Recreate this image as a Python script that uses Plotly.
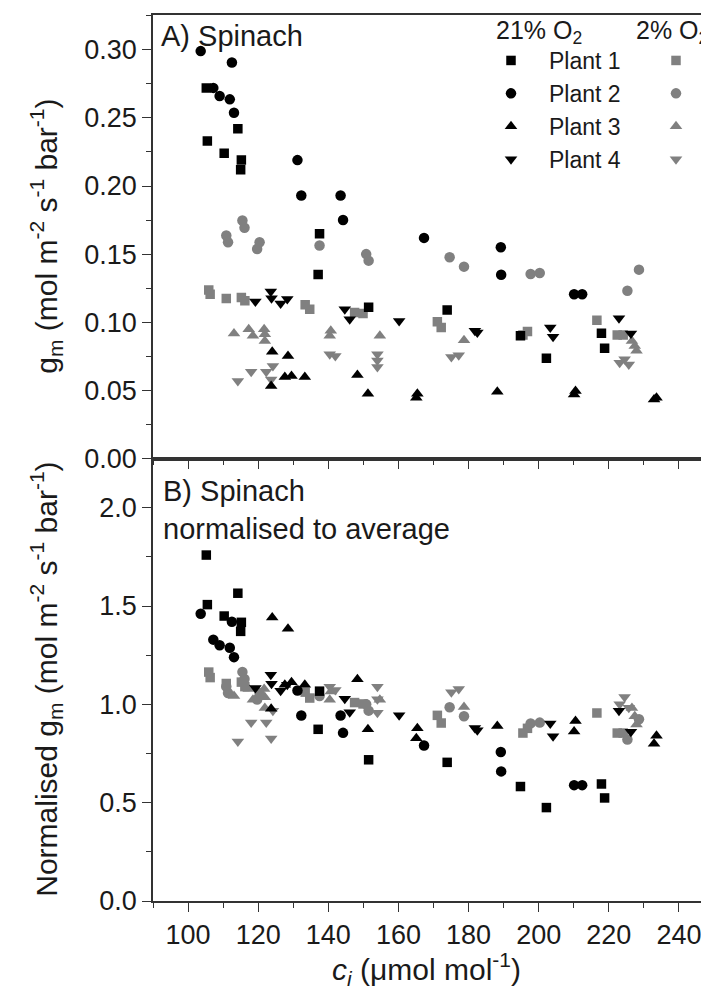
import plotly.graph_objects as go

# ---------------- data ----------------
# Plant 1, 21% O2
ci_p1_21 = [105.2, 105.5, 110.3, 114.2, 115.2, 115.0, 137.5, 137.1, 151.5, 173.9, 194.8, 202.2, 217.9, 218.8]
gm_p1_21 = [0.272, 0.233, 0.224, 0.242, 0.219, 0.212, 0.165, 0.135, 0.111, 0.109, 0.090, 0.0735, 0.092, 0.081]
nm_p1_21 = [1.759, 1.507, 1.449, 1.565, 1.417, 1.371, 1.067, 0.873, 0.718, 0.705, 0.582, 0.475, 0.595, 0.524]
# Plant 2, 21% O2
ci_p2_21 = [103.6, 107.2, 109.0, 111.9, 113.1, 112.5, 131.2, 132.3, 143.5, 144.2, 167.3, 189.2, 189.3, 210.1, 212.4]
gm_p2_21 = [0.299, 0.272, 0.266, 0.2636, 0.2537, 0.2906, 0.219, 0.193, 0.193, 0.175, 0.1619, 0.155, 0.1349, 0.1206, 0.1206]
nm_p2_21 = [1.461, 1.329, 1.300, 1.288, 1.240, 1.420, 1.070, 0.943, 0.943, 0.855, 0.791, 0.758, 0.659, 0.589, 0.589]
# Plant 3, 21% O2
ci_p3_21 = [124.0, 128.5, 127.6, 129.5, 133.3, 123.7, 148.3, 151.3, 165.4, 165.1, 188.2, 210.5, 210.1, 233.6, 232.9]
gm_p3_21 = [0.0784, 0.0753, 0.0598, 0.0605, 0.0598, 0.0532, 0.0613, 0.0475, 0.0475, 0.0446, 0.049, 0.0495, 0.047, 0.0446, 0.0433]
nm_p3_21 = [1.441, 1.384, 1.099, 1.112, 1.099, 0.978, 1.127, 0.873, 0.878, 0.828, 0.890, 0.915, 0.862, 0.840, 0.800]
# Plant 4, 21% O2
ci_p4_21 = [119.2, 123.6, 123.8, 126.4, 128.3, 144.7, 146.1, 160.2, 182.5, 181.8, 203.3, 204.1, 222.9, 226.3]
gm_p4_21 = [0.1153, 0.1226, 0.1177, 0.1138, 0.117, 0.1096, 0.1022, 0.101, 0.0924, 0.0937, 0.0961, 0.0893, 0.103, 0.0917]
nm_p4_21 = [1.083, 1.151, 1.105, 1.069, 1.099, 1.029, 0.960, 0.945, 0.868, 0.880, 0.902, 0.838, 0.967, 0.861]
# Plant 1, 2% O2
ci_p1_2 = [105.9, 106.3, 110.9, 115.2, 116.2, 133.4, 134.7, 147.5, 149.9, 171.1, 172.2, 195.5, 196.8, 216.6, 222.4, 224.1]
gm_p1_2 = [0.1236, 0.1206, 0.1175, 0.1182, 0.1158, 0.1128, 0.1096, 0.1072, 0.1064, 0.1003, 0.0961, 0.0907, 0.0932, 0.1015, 0.0907, 0.0907]
nm_p1_2 = [1.164, 1.136, 1.106, 1.113, 1.090, 1.062, 1.032, 1.009, 1.002, 0.944, 0.905, 0.854, 0.878, 0.956, 0.854, 0.854]
# Plant 2, 2% O2
ci_p2_2 = [115.5, 116.1, 110.9, 111.4, 120.4, 119.7, 137.5, 150.8, 151.5, 174.6, 178.7, 197.7, 200.3, 225.3, 228.6]
gm_p2_2 = [0.1747, 0.1693, 0.1637, 0.1587, 0.1587, 0.1538, 0.1563, 0.150, 0.1452, 0.1477, 0.1408, 0.1354, 0.1361, 0.1231, 0.1386]
nm_p2_2 = [1.165, 1.129, 1.091, 1.058, 1.058, 1.025, 1.042, 1.000, 0.968, 0.985, 0.939, 0.903, 0.907, 0.821, 0.924]
# Plant 3, 2% O2
ci_p3_2 = [113.1, 117.3, 118.5, 121.7, 121.9, 121.9, 140.7, 140.4, 154.7, 178.7, 226.6, 227.4, 227.9]
gm_p3_2 = [0.0917, 0.0949, 0.090, 0.0949, 0.0912, 0.0863, 0.0937, 0.090, 0.090, 0.0868, 0.0863, 0.0826, 0.079]
nm_p3_2 = [1.042, 1.078, 1.023, 1.078, 1.036, 0.981, 1.065, 1.023, 1.023, 0.986, 0.981, 0.939, 0.898]
# Plant 4, 2% O2
ci_p4_2 = [114.2, 118.0, 122.3, 124.2, 123.7, 140.4, 142.0, 154.0, 154.0, 154.0, 175.1, 177.2, 223.1, 224.5, 225.7]
gm_p4_2 = [0.0569, 0.0637, 0.0637, 0.0679, 0.058, 0.0765, 0.0753, 0.0765, 0.072, 0.0672, 0.0745, 0.0757, 0.0703, 0.0728, 0.069]
nm_p4_2 = [0.811, 0.907, 0.907, 0.967, 0.826, 1.090, 1.073, 1.090, 1.026, 0.957, 1.061, 1.078, 1.001, 1.037, 0.983]

plant_names = ["Plant 1", "Plant 2", "Plant 3", "Plant 4"]
x_tick_vals = [100, 120, 140, 160, 180, 200, 220, 240]

# ---------------- styling ----------------
FONT = "Liberation Sans, Arial, Helvetica, sans-serif"
TXT = "#1a1a1a"
BLACK = "#000000"
GREY = "#808080"
AXC = "#333333"
symbols = ["square", "circle", "triangle-up", "triangle-down"]
sizes = [9.5, 10.5, 11, 11]

series = [
    (ci_p1_21, gm_p1_21, nm_p1_21, 0, BLACK),
    (ci_p2_21, gm_p2_21, nm_p2_21, 1, BLACK),
    (ci_p3_21, gm_p3_21, nm_p3_21, 2, BLACK),
    (ci_p4_21, gm_p4_21, nm_p4_21, 3, BLACK),
    (ci_p1_2, gm_p1_2, nm_p1_2, 0, GREY),
    (ci_p2_2, gm_p2_2, nm_p2_2, 1, GREY),
    (ci_p3_2, gm_p3_2, nm_p3_2, 2, GREY),
    (ci_p4_2, gm_p4_2, nm_p4_2, 3, GREY),
]

fig = go.Figure()
order = [4, 5, 6, 7, 0, 1, 2, 3]
for k in order:
    ci, gm, nm, p, col = series[k]
    mk = dict(symbol=symbols[p], size=sizes[p], color=col, line=dict(width=0))
    is_black = col == BLACK
    fig.add_trace(go.Scatter(
        x=ci, y=gm, mode="markers", marker=mk,
        name=plant_names[p] if is_black else " ",
        legend="legend" if is_black else "legend2",
        legendrank=p, showlegend=True,
        xaxis="x", yaxis="y",
    ))
    fig.add_trace(go.Scatter(
        x=ci, y=nm, mode="markers", marker=mk, showlegend=False,
        xaxis="x2", yaxis="y2",
    ))

L, T, B, R = 145, 7, 100, 3
PH = 993 - T - B
split = 1 - 443.5 / PH


def px(xp):
    return (xp - L) / (709 - L - R)


def py(yp):
    return (993 - B - yp) / PH


axis_common = dict(
    showline=True, linecolor=AXC, linewidth=1.5, mirror=True,
    ticks="outside", ticklen=9, tickwidth=1.3, tickcolor=AXC,
    showgrid=False, zeroline=False,
    tickfont=dict(family=FONT, size=27, color=TXT),
)

fig.update_layout(
    width=709, height=993,
    margin=dict(l=L, r=R, t=T, b=B, autoexpand=False),
    paper_bgcolor="white", plot_bgcolor="white",
    font=dict(family=FONT, color=TXT),
    xaxis=dict(domain=[0, 1], range=[90, 250], anchor="y",
               tickvals=x_tick_vals, showticklabels=False,
               minor=dict(dtick=10, tick0=90, ticks="outside", ticklen=5, tickcolor=AXC),
               **axis_common),
    yaxis=dict(domain=[split, 1], range=[0, 0.3255], anchor="x",
               dtick=0.05, tick0=0, tickformat=".2f",
               minor=dict(dtick=0.025, tick0=0, ticks="outside", ticklen=5, tickcolor=AXC),
               **axis_common),
    xaxis2=dict(domain=[0, 1], range=[90, 250], anchor="y2",
                tickvals=x_tick_vals,
                minor=dict(dtick=10, tick0=90, ticks="outside", ticklen=5, tickcolor=AXC),
                **axis_common),
    yaxis2=dict(domain=[0, split], range=[0, 2.25], anchor="x2",
                dtick=0.5, tick0=0, tickformat=".1f",
                minor=dict(dtick=0.25, tick0=0, ticks="outside", ticklen=5, tickcolor=AXC),
                **axis_common),
    legend=dict(x=px(465), y=py(31), xanchor="left", yanchor="top",
                font=dict(family=FONT, size=23, color=TXT), bgcolor="rgba(0,0,0,0)",
                itemwidth=66, tracegroupgap=0, traceorder="normal"),
    legend2=dict(x=px(648), y=py(31), xanchor="left", yanchor="top",
                 font=dict(family=FONT, size=23, color=TXT), bgcolor="rgba(0,0,0,0)",
                 itemwidth=30, tracegroupgap=0, traceorder="normal"),
    showlegend=True,
)

title_font = dict(family=FONT, size=30, color=TXT)
fig.add_annotation(text="g<sub>m</sub> (mol m<sup>-2</sup> s<sup>-1</sup> bar<sup>-1</sup>)",
                   textangle=-90, xref="paper", yref="y domain", x=px(38), y=0.5,
                   xanchor="center", yanchor="middle", showarrow=False, font=title_font)
fig.add_annotation(text="Normalised g<sub>m</sub> (mol m<sup>-2</sup> s<sup>-1</sup> bar<sup>-1</sup>)",
                   textangle=-90, xref="paper", yref="y2 domain", x=px(38), y=0.5,
                   xanchor="center", yanchor="middle", showarrow=False, font=title_font)
fig.add_annotation(text="<i>c</i><sub><i>i</i></sub> (\u03bcmol mol<sup>-1</sup>)",
                   xref="paper", yref="paper", x=px(418), y=py(984),
                   xanchor="center", yanchor="bottom", showarrow=False,
                   font=dict(family=FONT, size=30, color=TXT))

ann_font = dict(family=FONT, size=29, color=TXT)
fig.add_annotation(text="A) Spinach", xref="paper", yref="paper",
                   x=px(151), y=py(28), xanchor="left", yanchor="middle",
                   showarrow=False, font=ann_font)
fig.add_annotation(text="B) Spinach<br>normalised to average", xref="paper", yref="paper",
                   x=px(153), y=py(502), xanchor="left", yanchor="middle",
                   align="left", showarrow=False, font=ann_font)
hdr_font = dict(family=FONT, size=25, color=TXT)
fig.add_annotation(text="21% O<sub>2</sub>", xref="paper", yref="paper",
                   x=px(486), y=py(24), xanchor="left", yanchor="middle",
                   showarrow=False, font=hdr_font)
fig.add_annotation(text="2% O<sub>2</sub>", xref="paper", yref="paper",
                   x=px(626), y=py(24), xanchor="left", yanchor="middle",
                   showarrow=False, font=hdr_font)

fig.write_html("out.html")
